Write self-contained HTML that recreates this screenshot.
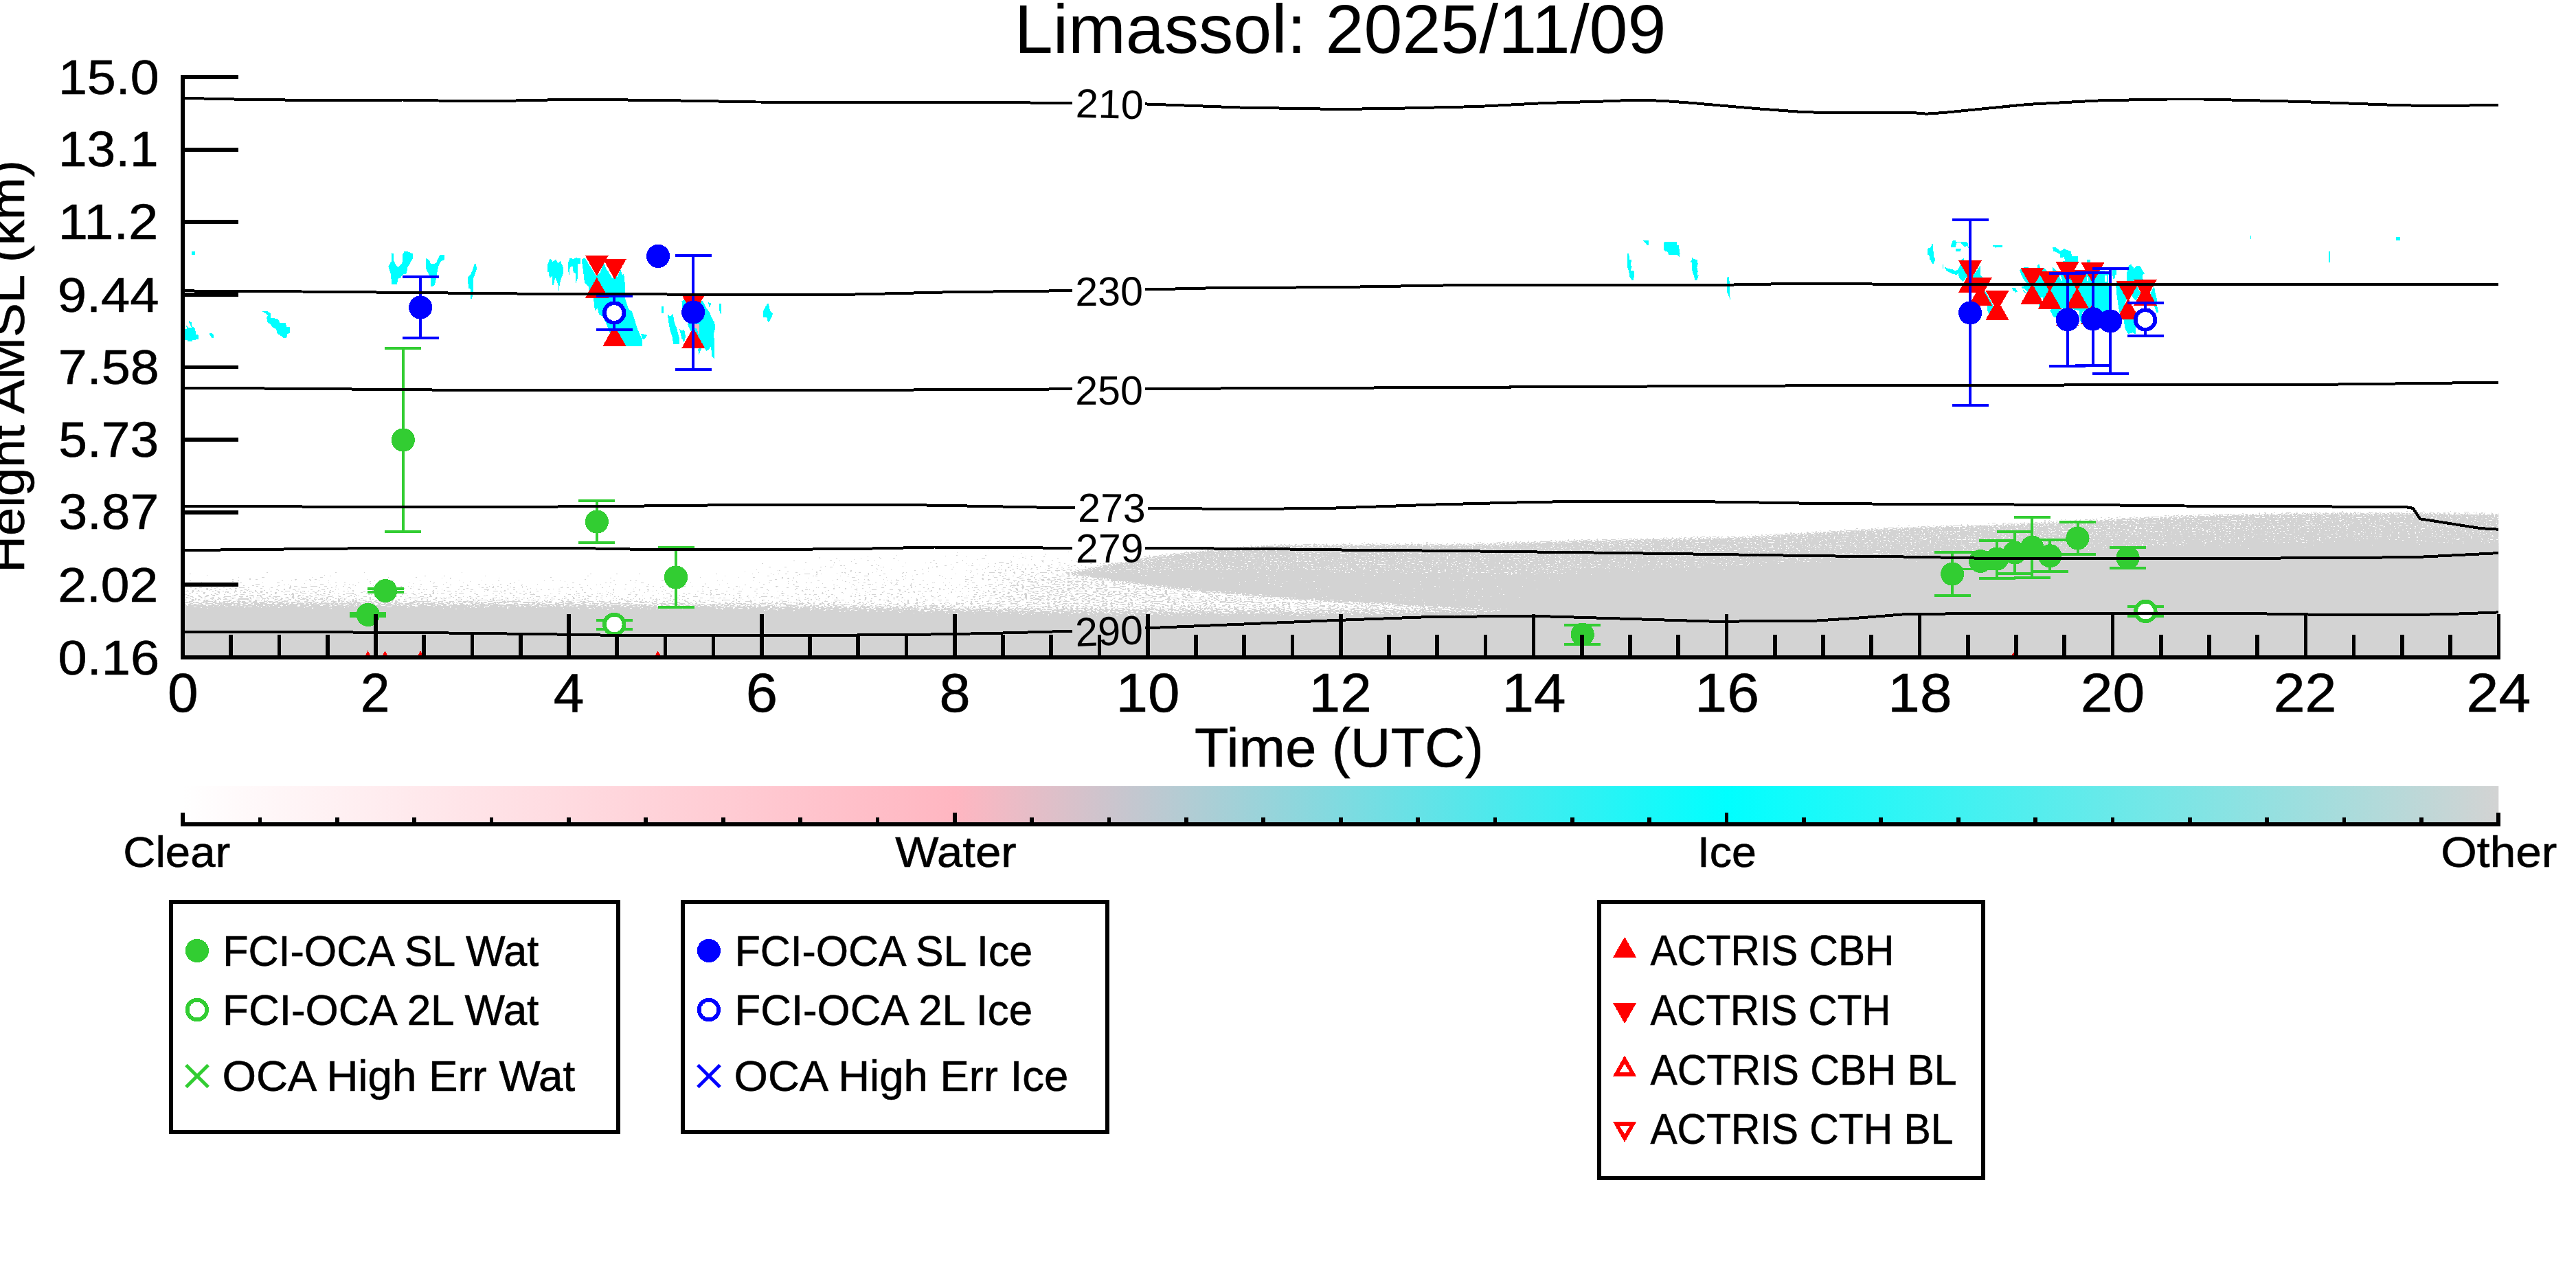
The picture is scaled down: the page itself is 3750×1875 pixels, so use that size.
<!DOCTYPE html>
<html><head><meta charset="utf-8"><title>Limassol: 2025/11/09</title>
<style>html,body{margin:0;padding:0;background:#fff}svg{display:block}text{font-family:"Liberation Sans",sans-serif;fill:#000}text.d{stroke:#000;stroke-width:0.6px}</style></head><body>
<svg width="3750" height="1875" viewBox="0 0 3750 1875">
<rect width="3750" height="1875" fill="#fff"/>
<defs>
<clipPath id="ax"><rect x="266" y="109" width="3371.3" height="847.8"/></clipPath>
<linearGradient id="cb" x1="0" x2="1" y1="0" y2="0"><stop offset="0" stop-color="#ffffff"/><stop offset="0.33333" stop-color="#ffb6c1"/><stop offset="0.66667" stop-color="#00ffff"/><stop offset="1" stop-color="#d3d3d3"/></linearGradient>
<filter id="dzA" x="206" y="690" width="3491.3" height="320" filterUnits="userSpaceOnUse" color-interpolation-filters="sRGB">
<feTurbulence type="fractalNoise" baseFrequency="0.24 0.6" numOctaves="1" seed="7" result="n"/>
<feColorMatrix in="n" type="matrix" values="0 0 0 0 0  0 0 0 0 0  0 0 0 0 0  1 0 0 0 0" result="na"/>
<feComponentTransfer in="na" result="nu"><feFuncA type="table" tableValues="0.0000 0.0000 0.0000 0.0000 0.0000 0.0000 0.0000 0.0001 0.0005 0.0014 0.0036 0.0122 0.0276 0.0508 0.0873 0.1254 0.1792 0.2322 0.3032 0.4023 0.4848 0.5839 0.6887 0.7655 0.8342 0.8819 0.9197 0.9554 0.9766 0.9900 0.9966 0.9988 0.9997 0.9999 1.0000 1.0000 1.0000 1.0000 1.0000 1.0000 1.0000"/></feComponentTransfer>
<feGaussianBlur in="SourceAlpha" stdDeviation="4 4.2" result="d"/>
<feComposite in="d" in2="nu" operator="arithmetic" k1="0" k2="1.012" k3="-1" k4="0" result="s"/>
<feComponentTransfer in="s" result="m"><feFuncA type="linear" slope="1000" intercept="0"/></feComponentTransfer>
<feFlood flood-color="#d3d3d3" result="fl"/>
<feComposite in="fl" in2="m" operator="in"/>
</filter>
<filter id="dzB" x="206" y="690" width="3491.3" height="320" filterUnits="userSpaceOnUse" color-interpolation-filters="sRGB">
<feTurbulence type="fractalNoise" baseFrequency="0.24 0.6" numOctaves="1" seed="11" result="n"/>
<feColorMatrix in="n" type="matrix" values="0 0 0 0 0  0 0 0 0 0  0 0 0 0 0  1 0 0 0 0" result="na"/>
<feComponentTransfer in="na" result="nu"><feFuncA type="table" tableValues="0.0000 0.0000 0.0000 0.0000 0.0000 0.0000 0.0000 0.0001 0.0005 0.0014 0.0036 0.0122 0.0276 0.0508 0.0873 0.1254 0.1792 0.2322 0.3032 0.4023 0.4848 0.5839 0.6887 0.7655 0.8342 0.8819 0.9197 0.9554 0.9766 0.9900 0.9966 0.9988 0.9997 0.9999 1.0000 1.0000 1.0000 1.0000 1.0000 1.0000 1.0000"/></feComponentTransfer>
<feGaussianBlur in="SourceAlpha" stdDeviation="22 5" result="d"/>
<feComposite in="d" in2="nu" operator="arithmetic" k1="0" k2="1.012" k3="-1" k4="0" result="s"/>
<feComponentTransfer in="s" result="m"><feFuncA type="linear" slope="1000" intercept="0"/></feComponentTransfer>
<feFlood flood-color="#d3d3d3" result="fl"/>
<feComposite in="fl" in2="m" operator="in"/>
</filter>
<filter id="dzC" x="206" y="690" width="3491.3" height="320" filterUnits="userSpaceOnUse" color-interpolation-filters="sRGB">
<feTurbulence type="fractalNoise" baseFrequency="0.33 0.75" numOctaves="1" seed="23" result="n"/>
<feColorMatrix in="n" type="matrix" values="0 0 0 0 0  0 0 0 0 0  0 0 0 0 0  1 0 0 0 0" result="na"/>
<feComponentTransfer in="na" result="nu"><feFuncA type="table" tableValues="0.0000 0.0000 0.0000 0.0000 0.0000 0.0000 0.0000 0.0001 0.0005 0.0014 0.0036 0.0122 0.0276 0.0508 0.0873 0.1254 0.1792 0.2322 0.3032 0.4023 0.4848 0.5839 0.6887 0.7655 0.8342 0.8819 0.9197 0.9554 0.9766 0.9900 0.9966 0.9988 0.9997 0.9999 1.0000 1.0000 1.0000 1.0000 1.0000 1.0000 1.0000"/></feComponentTransfer>
<feGaussianBlur in="SourceAlpha" stdDeviation="2.5 1.6" result="d"/>
<feComposite in="d" in2="nu" operator="arithmetic" k1="0" k2="1.012" k3="-1" k4="0" result="s"/>
<feComponentTransfer in="s" result="m"><feFuncA type="linear" slope="1000" intercept="0"/></feComponentTransfer>
<feFlood flood-color="#d3d3d3" result="fl"/>
<feComposite in="fl" in2="m" operator="in"/>
</filter>
<linearGradient id="wg" gradientUnits="userSpaceOnUse" x1="1548" x2="2300" y1="0" y2="0"><stop offset="0" stop-color="#000" stop-opacity="0.27"/><stop offset="0.25" stop-color="#000" stop-opacity="0.31"/><stop offset="0.7" stop-color="#000" stop-opacity="0.33"/><stop offset="1" stop-color="#000" stop-opacity="0.6"/></linearGradient>
<linearGradient id="h1" gradientUnits="userSpaceOnUse" x1="0" x2="0" y1="828" y2="884"><stop offset="0.0000" stop-color="#000" stop-opacity="0.0"/><stop offset="0.2500" stop-color="#000" stop-opacity="0.006"/><stop offset="0.5357" stop-color="#000" stop-opacity="0.03"/><stop offset="0.7143" stop-color="#000" stop-opacity="0.085"/><stop offset="1.0000" stop-color="#000" stop-opacity="0.13"/></linearGradient>
<linearGradient id="hL" gradientUnits="userSpaceOnUse" x1="0" x2="0" y1="834" y2="884"><stop offset="0.0000" stop-color="#000" stop-opacity="0.0"/><stop offset="0.2200" stop-color="#000" stop-opacity="0.02"/><stop offset="0.4400" stop-color="#000" stop-opacity="0.09"/><stop offset="0.6400" stop-color="#000" stop-opacity="0.2"/><stop offset="1.0000" stop-color="#000" stop-opacity="0.27"/></linearGradient>
<linearGradient id="hM" gradientUnits="userSpaceOnUse" x1="0" x2="0" y1="832" y2="884"><stop offset="0.0000" stop-color="#000" stop-opacity="0.0"/><stop offset="0.2500" stop-color="#000" stop-opacity="0.012"/><stop offset="0.5000" stop-color="#000" stop-opacity="0.06"/><stop offset="0.6923" stop-color="#000" stop-opacity="0.13"/><stop offset="1.0000" stop-color="#000" stop-opacity="0.18"/></linearGradient>
<linearGradient id="h2" gradientUnits="userSpaceOnUse" x1="0" x2="0" y1="800" y2="892"><stop offset="0.0000" stop-color="#000" stop-opacity="0.0"/><stop offset="0.0870" stop-color="#000" stop-opacity="0.012"/><stop offset="0.4348" stop-color="#000" stop-opacity="0.03"/><stop offset="0.7391" stop-color="#000" stop-opacity="0.07"/><stop offset="1.0000" stop-color="#000" stop-opacity="0.15"/></linearGradient>
<linearGradient id="h3" gradientUnits="userSpaceOnUse" x1="0" x2="0" y1="800" y2="892"><stop offset="0.0000" stop-color="#000" stop-opacity="0.0"/><stop offset="0.1522" stop-color="#000" stop-opacity="0.03"/><stop offset="0.3478" stop-color="#000" stop-opacity="0.11"/><stop offset="0.5652" stop-color="#000" stop-opacity="0.21"/><stop offset="1.0000" stop-color="#000" stop-opacity="0.28"/></linearGradient>
</defs>
<g clip-path="url(#ax)">
<g filter="url(#dzA)">
<polygon points="206,877.5 800,878.5 1056,881 1300,884 1500,888 1700,889.5 1900,890 2050,889 2174,886 2230,866 2290,838 2400,830 2540,826 2780,812 3000,803 3160,796 3400,792 3697.3,792 3697.3,1005 206,1005" fill="#000"/>
</g>
<g filter="url(#dzB)">
<polygon points="206,826 480,826 480,883 206,882" fill="url(#hL)"/>
<polygon points="480,826 760,826 760,884 480,883" fill="url(#hM)"/>
<polygon points="760,826 1100,826 1100,886 760,884" fill="url(#h1)"/>
<polygon points="1100,824 1300,806 1450,798 1450,892 1100,886" fill="url(#h2)"/>
<polygon points="1450,796 1545,796 1585,828 1548,836 1560,893 1450,892" fill="url(#h3)"/>
<polygon points="1548,836 1600,842 1665,852 1750,861 1843,869 1930,875 2000,879 2090,884 2174,888 2300,890 2300,894 1550,894" fill="url(#wg)"/>
</g>
<g filter="url(#dzC)">
<polygon points="2300,787 2400,785 2540,782 2650,775 2780,768 2900,764.5 3000,759.5 3160,752 3260,749 3400,747 3500,747 3637.3,748.5 3697.3,747 3697.3,767 3637.3,768.5 3500,767 3400,767 3260,769 3160,772 3000,779.5 2900,784.5 2780,788 2650,795 2540,802 2400,805 2300,807" fill="#000" fill-opacity="0.915"/>
<polygon points="2300,807 2400,805 2540,802 2650,795 2780,788 2900,784.5 3000,779.5 3160,772 3260,769 3400,767 3500,767 3637.3,768.5 3697.3,767 3697.3,787 3637.3,788.5 3500,787 3400,787 3260,789 3160,792 3000,799.5 2900,804.5 2780,808 2650,815 2540,822 2400,825 2300,827" fill="#000" fill-opacity="0.95"/>
<polygon points="2300,827 2400,825 2540,822 2650,815 2780,808 2900,804.5 3000,799.5 3160,792 3260,789 3400,787 3500,787 3637.3,788.5 3697.3,787 3697.3,809 3637.3,810.5 3500,809 3400,809 3260,811 3160,814 3000,821.5 2900,826.5 2780,830 2650,837 2540,844 2400,847 2300,849" fill="#000" fill-opacity="0.985"/>
<polygon points="1550,835 1600,824 1665,812 1750,802 1843,794.5 2000,792.5 2152,792.5 2300,787 2300,833.4 2152,835 2000,831.4 1843,828 1750,828.5 1665,830 1600,832.1 1550,835" fill="#000" fill-opacity="0.925"/>
<polygon points="1550,835 1600,832.1 1665,830 1750,828.5 1843,828 2000,831.4 2152,835 2300,833.4 2300,891 2174,888 2090,884 2000,879 1930,875 1843,869 1750,861 1665,852 1600,842 1550,835" fill="#000" fill-opacity="0.985"/>
</g>
<g fill="#00ffff" shape-rendering="crispEdges">
<rect x="279.3" y="366.1" width="5" height="5"/>
<polygon points="268.9,479.1 268.9,495.3 273,495.3 273,497.1 279.9,497.1 279.9,494.7 284.8,494.7 289.2,493.4 289.2,487.8 285.5,486.6 283.6,477.9 279.9,475.4 278.6,469.2 274.3,466.7 276.1,471.7 278.6,476.6 273.7,476.6 271.2,474.2 272.4,479.1" fill="#00ffff"/>
<polygon points="305,484.7 307.8,484.7 310.9,487.2 310.9,492.2 308.4,492.2 305,487.2" fill="#00ffff"/>
<polygon points="381.7,453 389.2,453 393.5,456.1 393.5,462.4 397.9,463 404.7,464.8 407.2,469.8 415.9,469.8 417.1,476 421.5,476 422.1,484.7 418.4,486 417.1,492.2 412.2,492.2 409.1,489.1 403.5,485.3 402.2,479.1 396,476 393.5,471.7 389.8,469.8 388,462.4 389.8,459.3 385.5,455.5" fill="#00ffff"/>
<polygon points="570.2,368.3 572.7,369.2 573.3,379.8 575.8,384.7 579.5,389.1 585.7,382.2 585.7,371.7 588.2,366.1 593.2,366.1 600.6,369.2 601.2,375.4 596.9,383.5 593.2,389.7 591.9,398.4 587,399.6 582.6,404.6 578.9,405.8 578.3,413.9 570.2,413.9 568.9,399.6 565.2,388.4 567.7,383.5 570.2,379.8" fill="#00ffff"/>
<polygon points="619.9,376 624.8,378.5 626.7,383.5 631.7,384.1 635.4,382.2 637.9,376 640.4,371.1 647.2,371.1 647.2,377.9 641.6,381 638.5,387.2 636,397.8 634.8,407.1 632.9,414.5 629.8,417 627,417 627,404.6 624.2,399.6 620.5,392.2" fill="#00ffff"/>
<polygon points="690.7,384.1 693.2,384.1 693.8,391.6 691.9,398.4 689.4,404.6 688.8,425.7 687,435 685.1,435 684.5,420.7 682,419.5 680.7,403.4 685.1,399.6 687.6,393.4" fill="#00ffff"/>
<polygon points="796.8,385.3 801.1,376 804.8,381 809.2,377.9 812.3,383.5 816,379.8 819.8,389.7 819.8,398.4 817.3,404.6 814.8,413.3 813.5,423.2 812.5,414.5 810.4,408.9 808,404.6 806.1,414.5 804.2,414.5 803.6,402.1 799.9,404.6 798.6,395.9 796.8,395.9" fill="#00ffff"/>
<polygon points="827.2,382.2 829.7,375.4 834.7,377.3 838.4,375.4 844.6,376 844.6,383.5 840.9,384.7 840.9,404.6 838.4,412 837.8,398.4 834.7,395.9 833.4,387.2 829.7,389.7 828.4,400.9 827.2,394.7" fill="#00ffff"/>
<polygon points="846.5,377 849,395 851,412 857,418 858,428 864,434 866,452 870,448 872,458 878,461 883,472 889,488 896,500 904,504 935,504 935,495 929,481 925,469 920,453 917,452 915,450 910,434 910,415 908,398 906,400 903,392 899,404 894,398 892,406 886,396 883,392 879,383 874,396 868,402 863,394 858,386 852,376" fill="#00ffff"/>
<polygon points="933,485.7 942.1,487.8 937.9,494.1 934.4,492.7" fill="#00ffff"/>
<polygon points="972.1,457.7 975.6,460.5 979.8,456.3 981.2,467.5 985.4,478.7 988.9,492.7 988.9,501.1 980.5,501.1 978.4,489.9 974.9,478.7 972.8,466.1" fill="#00ffff"/>
<polygon points="988.9,478 992.4,481.5 995.9,479.4 998,489.9 995.9,498.3 992.4,492.7" fill="#00ffff"/>
<polygon points="992.4,438.2 998,435.4 1023.2,438.2 1028,447.9 1032.9,454.9 1035.7,461.9 1039.9,468.9 1041.3,475.9 1039.2,485.7 1039.9,498.3 1039.9,522 1036.4,519.2 1035,503.8 1031.5,509.4 1028,510.8 1025.9,506.6 1021.1,507.3 1017.6,516.4 1016.2,509.4 1017.6,503.8 1003.6,478.7 1000.8,471.7 1003.6,468.9 995.2,461.9" fill="#00ffff"/>
<polygon points="963.1,445.9 965.9,445.9 965.9,455.6 963.1,455.6" fill="#00ffff"/>
<polygon points="1030.8,440.3 1035.7,441 1032.9,447.9" fill="#00ffff"/>
<polygon points="1046.9,442.4 1049.7,442.4 1049.7,457.7 1047.6,454.9" fill="#00ffff"/>
<polygon points="1111.2,452.1 1116.8,442.4 1118.9,442.4 1121,452.1 1125.2,456.3 1123.8,460.5 1121,466.1 1118.2,468.9 1116.1,461.9 1111.2,461.9" fill="#00ffff"/>
<polygon points="2368.8,369.1 2371.1,369.1 2372.3,377.8 2375.4,378.4 2373.5,387.1 2376,387.7 2373.5,393.3 2378.5,394.5 2379.1,399.5 2377.9,407.8 2375.4,407.8 2372.3,402.6 2371.1,394.5 2368.8,388.3" fill="#00ffff"/>
<polygon points="2391.9,349.8 2400,349.8 2400,356.9 2397.8,356.9 2394.7,353.5" fill="#00ffff"/>
<polygon points="2422,353.5 2423.2,352 2440.6,352.5 2441.2,357.3 2443.7,357.3 2445.6,368.4 2445,374.7 2443.1,372.2 2441.2,370.9 2429.4,370.9 2427,366 2422.6,365.3" fill="#00ffff"/>
<polygon points="2459.9,380.9 2462.4,379.6 2463,375 2465.5,377.1 2471.1,378.1 2471.7,384.6 2470.4,389.6 2471.7,394.5 2471.1,400.7 2472.9,401.4 2470.4,407.6 2467,407.8 2466.1,400.7 2463.6,395.8 2463,382.1" fill="#00ffff"/>
<polygon points="2513.9,405.7 2515.2,403 2517,403 2517.9,414.4 2517.9,426.8 2518.9,436.8 2517,431.8 2514.5,425.6 2513.9,414.4" fill="#00ffff"/>
<polygon points="2805.7,362.1 2810.5,360.4 2813.3,352.8 2814.1,362.6 2815.4,373.5 2817.1,376.7 2816.5,380 2814.9,384 2813,384 2811.1,380 2808.9,377.8 2808.4,371.3 2805.7,371.1" fill="#00ffff"/>
<polygon points="2839.9,357.2 2843.2,349.9 2846.4,349.9 2847,351.7 2857.8,351.7 2864.3,352.8 2866,361.5 2864.3,358.3 2858.9,358.8 2854.6,353.4 2849.1,352.8 2846.4,359.9 2840.4,359.9" fill="#00ffff"/>
<polygon points="2847,361.7 2855.1,361.7 2854,365.9 2847,365.9" fill="#00ffff"/>
<polygon points="2901,356.8 2915.1,356.8 2915.1,359.9 2906.2,359.9 2905.7,361.7 2904.6,359.9 2901,358.5" fill="#00ffff"/>
<polygon points="2827.9,384.9 2829,384.9 2829,390.9 2827.9,390.9" fill="#00ffff"/>
<polygon points="2830.7,388.7 2836.1,390.9 2841,392 2842.6,392.5 2847,394.1 2852.4,390.9 2852.4,395.2 2849.1,400.1 2845.9,399.6 2840.4,397.9 2835,395.2 2831.2,390.9" fill="#00ffff"/>
<polygon points="2850.8,390.9 2854.6,384.3 2864.3,401.7 2857.8,410.4 2852.4,405 2850.8,399.6" fill="#00ffff"/>
<polygon points="2872,401.7 2882.8,386.5 2883.4,400.7 2886.1,403.9 2872,403.9" fill="#00ffff"/>
<polygon points="2855.1,377.8 2858.9,376.2 2858.9,379.1 2855.1,379.1" fill="#00ffff"/>
<polygon points="2893.2,444.1 2901.3,444.1 2901.3,447.4 2895.9,458.3 2893.2,452.8" fill="#00ffff"/>
<polygon points="2888.3,424.6 2889.9,423.5 2901.3,444.1 2900.2,445.2" fill="#00ffff"/>
<polygon points="2929,418.9 2933.9,418.9 2936.6,424.6 2935,425.7 2931.7,422.4 2929,420.2" fill="#00ffff"/>
<polygon points="2988.2,360 2992,360 2999.6,365.4 3005,362.2 3014.8,366 3015.9,373 3024.6,373 3025.1,380.7 3006.1,380.7 3005,374.1 2999.6,375.2 2998.5,369.8 2989.2,365.4" fill="#00ffff"/>
<polygon points="3038.2,377.9 3043,377.9 3043,381.7 3038.2,381.7" fill="#00ffff"/>
<polygon points="2966.4,385.5 2969.1,385.5 2969.1,389.9 2966.4,389.9" fill="#00ffff"/>
<polygon points="2930,418.7 2933.3,419.2 2937.1,424.7 2934.9,425.8 2930,422.5" fill="#00ffff"/>
<polygon points="2940.2,392.8 2947.9,388.5 2953.1,388.5 2953.5,390.1 2966.7,390.1 2967.1,385.1 2969.3,385.1 2969.7,390.1 2975.3,390.2 2981.2,395.4 2988.1,395.4 2988.1,388.5 2993.2,394.1 2998.3,395.4 3022.2,395.4 3035,395.8 3058.1,393.7 3070.1,395.4 3070.1,450.9 3059.8,454.3 3049.6,448.3 3041,448.3 3030.8,455.1 3030.8,470.5 3029.1,470.5 3026.5,456.9 3023.9,450.9 3000.9,449.2 2994.9,456.9 2993.2,462 2989.8,462 2983.8,450.9 2989.8,449.6 2967.6,449.6 2967.6,442.8 2942,442.8 2951.3,427.8 2946.2,425.3 2942.8,417.6 2952.2,414.2 2947.1,408.2 2942.8,401.3" fill="#00ffff"/>
<polygon points="2930,418.9 2933.4,419.3 2936.8,424 2936.4,425.7 2933.4,424.4 2930,421.8" fill="#00ffff"/>
<polygon points="3003.4,380 3020.5,380 3020.5,381.3 3003.4,381.3" fill="#00ffff"/>
<polygon points="3039.3,380 3042.7,380 3042.7,381.9 3039.3,381.9" fill="#00ffff"/>
<polygon points="3075.2,392.8 3081.2,392.8 3081.2,397.1 3078.6,397.1 3078.6,404.8 3076.9,404.8 3075.2,397.1" fill="#00ffff"/>
<polygon points="3081.2,408.2 3086.3,415.9 3092.3,427.8 3095.7,435.5 3089.7,450.9 3085.4,455.1 3082.9,439.8 3081.2,427.8 3080.3,415.9" fill="#00ffff"/>
<polygon points="2997.5,401.3 3000,401.3 3002.6,409 3000.9,409" fill="#ffffff"/>
<polygon points="3038,403.1 3039.7,403.1 3039.7,409 3038,409" fill="#ffffff"/>
<polygon points="3064.1,400.5 3066.6,400.5 3066.6,409.9 3064.1,409.9" fill="#ffffff"/>
<polygon points="3069.2,399.6 3070.9,399.6 3070.9,411.6 3069.2,411.6" fill="#ffffff"/>
<polygon points="3024.8,451.7 3026.5,451.7 3026.5,456.9 3024.8,456.9" fill="#ffffff"/>
<polygon points="2971,432.9 2974.4,432.9 2974.4,438.9 2972.7,438.9" fill="#ffffff"/>
<polygon points="2943.7,420.1 2947.1,420.1 2952.2,426.1 2949.6,426.5" fill="#ffffff"/>
<polygon points="3083.7,424.4 3085.4,424.4 3088.8,435.5 3087.1,435.5" fill="#ffffff"/>
<polygon points="3095.7,399.6 3098.9,386.5 3102.2,384.9 3106.5,390.9 3110.3,387.1 3115.2,387.1 3118.5,393 3121.7,398.5 3119,400.1 3119.6,406.6 3106.5,407.2 3106,408.8 3096.2,408.8" fill="#00ffff"/>
<polygon points="3081.5,418 3084.8,415.9 3095.7,436.5 3089.1,449.6 3085.9,445.2 3082.6,432.2" fill="#00ffff"/>
<polygon points="3102.2,425.7 3110.9,417 3116.3,426.7 3109.2,437.6 3105.4,434.3" fill="#00ffff"/>
<polygon points="3130.4,426.7 3135.9,416.4 3137,423.5 3139.7,434.3 3140.2,445.2 3142.4,455 3139.1,455 3135.9,445.2 3132.6,432.2" fill="#00ffff"/>
<polygon points="3091.3,464.8 3106.5,464.8 3109.2,477.8 3109.2,486.5 3104.3,484.3 3097.8,486 3093.5,477.8" fill="#00ffff"/>
<polygon points="3074.5,396.3 3081,396.3 3081,399.6 3078.3,399.6 3078.3,406.1 3076.1,406.1" fill="#00ffff"/>
<rect x="3276" y="343" width="1.3" height="5"/><rect x="3390" y="365.8" width="1.7" height="16"/><rect x="3487.8" y="345.1" width="6.3" height="4.9"/>
</g>
<polygon points="1011.3,471.7 1017.6,471.7 1018.3,485.7 1016.2,485.7 1014.8,478.7 1011.3,477.3" fill="#ffb6c1" shape-rendering="crispEdges"/>
<g shape-rendering="crispEdges">
<polygon points="868.8,402 851.8,372 885.8,372" fill="#ff0000" shape-rendering="crispEdges"/>
<polygon points="868.8,403.8 851.8,433.8 885.8,433.8" fill="#ff0000" shape-rendering="crispEdges"/>
<polygon points="894.9,407 877.9,377 911.9,377" fill="#ff0000" shape-rendering="crispEdges"/>
<polygon points="894.4,473.8 877.4,503.8 911.4,503.8" fill="#ff0000" shape-rendering="crispEdges"/>
<polygon points="1009.2,459 992.2,429 1026.2,429" fill="#ff0000" shape-rendering="crispEdges"/>
<polygon points="1009.2,476.9 992.2,506.9 1026.2,506.9" fill="#ff0000" shape-rendering="crispEdges"/>
<polygon points="535.5,947.4 518.5,977.4 552.5,977.4" fill="#ff0000" shape-rendering="crispEdges"/>
<polygon points="560.6,947.4 543.6,977.4 577.6,977.4" fill="#ff0000" shape-rendering="crispEdges"/>
<polygon points="612.1,947.4 595.1,977.4 629.1,977.4" fill="#ff0000" shape-rendering="crispEdges"/>
<polygon points="957.7,947.4 940.7,977.4 974.7,977.4" fill="#ff0000" shape-rendering="crispEdges"/>
<polygon points="2303,951.5 2286,981.5 2320,981.5" fill="#ff0000" shape-rendering="crispEdges"/>
<polygon points="2931.3,949.3 2914.3,979.3 2948.3,979.3" fill="#ff0000" shape-rendering="crispEdges"/>
<polygon points="2868,409.1 2851,379.1 2885,379.1" fill="#ff0000" shape-rendering="crispEdges"/>
<polygon points="2868,395.7 2851,425.7 2885,425.7" fill="#ff0000" shape-rendering="crispEdges"/>
<polygon points="2883,434 2866,404 2900,404" fill="#ff0000" shape-rendering="crispEdges"/>
<polygon points="2883,414.7 2866,444.7 2900,444.7" fill="#ff0000" shape-rendering="crispEdges"/>
<polygon points="2907.5,453 2890.5,423 2924.5,423" fill="#ff0000" shape-rendering="crispEdges"/>
<polygon points="2907.5,435.8 2890.5,465.8 2924.5,465.8" fill="#ff0000" shape-rendering="crispEdges"/>
<polygon points="2958.4,420.1 2941.4,390.1 2975.4,390.1" fill="#ff0000" shape-rendering="crispEdges"/>
<polygon points="2958.4,412.8 2941.4,442.8 2975.4,442.8" fill="#ff0000" shape-rendering="crispEdges"/>
<polygon points="2983.8,425 2966.8,395 3000.8,395" fill="#ff0000" shape-rendering="crispEdges"/>
<polygon points="2983.8,419.8 2966.8,449.8 3000.8,449.8" fill="#ff0000" shape-rendering="crispEdges"/>
<polygon points="3009.5,411 2992.5,381 3026.5,381" fill="#ff0000" shape-rendering="crispEdges"/>
<polygon points="3009.5,444.4 2992.5,474.4 3026.5,474.4" fill="#ff0000" shape-rendering="crispEdges"/>
<polygon points="3023.9,423.2 3006.9,393.2 3040.9,393.2" fill="#ff0000" shape-rendering="crispEdges"/>
<polygon points="3023.9,418.9 3006.9,448.9 3040.9,448.9" fill="#ff0000" shape-rendering="crispEdges"/>
<polygon points="3046.4,412.1 3029.4,382.1 3063.4,382.1" fill="#ff0000" shape-rendering="crispEdges"/>
<polygon points="3046.4,441.5 3029.4,471.5 3063.4,471.5" fill="#ff0000" shape-rendering="crispEdges"/>
<polygon points="3098,439.1 3081,409.1 3115,409.1" fill="#ff0000" shape-rendering="crispEdges"/>
<polygon points="3098,434.8 3081,464.8 3115,464.8" fill="#ff0000" shape-rendering="crispEdges"/>
<polygon points="3123,437 3106,407 3140,407" fill="#ff0000" shape-rendering="crispEdges"/>
<polygon points="3123,414.9 3106,444.9 3140,444.9" fill="#ff0000" shape-rendering="crispEdges"/>
</g>
<g fill="#32cd32" shape-rendering="crispEdges"><rect x="584.9" y="506.8" width="3.9" height="267.4"/><rect x="560.4" y="504.9" width="53" height="3.9"/><rect x="560.4" y="772.2" width="53" height="3.9"/></g>
<circle cx="586.9" cy="640.4" r="17.1" fill="#32cd32" shape-rendering="crispEdges"/>
<g fill="#32cd32" shape-rendering="crispEdges"><rect x="559.2" y="856.7" width="3.9" height="5.3"/><rect x="534.7" y="854.8" width="53" height="3.9"/><rect x="534.7" y="860" width="53" height="3.9"/></g>
<circle cx="561.2" cy="860" r="17.1" fill="#32cd32" shape-rendering="crispEdges"/>
<g fill="#32cd32" shape-rendering="crispEdges"><rect x="533.8" y="893" width="3.9" height="4"/><rect x="509.3" y="891" width="53" height="3.9"/><rect x="509.3" y="895" width="53" height="3.9"/></g>
<circle cx="535.8" cy="894.9" r="17.1" fill="#32cd32" shape-rendering="crispEdges"/>
<g fill="#32cd32" shape-rendering="crispEdges"><rect x="866.9" y="729" width="3.9" height="61"/><rect x="842.4" y="727" width="53" height="3.9"/><rect x="842.4" y="788" width="53" height="3.9"/></g>
<circle cx="868.9" cy="759.5" r="17.1" fill="#32cd32" shape-rendering="crispEdges"/>
<g fill="#32cd32" shape-rendering="crispEdges"><rect x="982" y="796.5" width="3.9" height="87.5"/><rect x="957.5" y="794.5" width="53" height="3.9"/><rect x="957.5" y="882" width="53" height="3.9"/></g>
<circle cx="984" cy="840.4" r="17.1" fill="#32cd32" shape-rendering="crispEdges"/>
<g fill="#32cd32" shape-rendering="crispEdges"><rect x="2301.8" y="909.6" width="3.9" height="28"/><rect x="2277.2" y="907.6" width="53" height="3.9"/><rect x="2277.2" y="935.6" width="53" height="3.9"/></g>
<circle cx="2303.7" cy="923.6" r="17.1" fill="#32cd32" shape-rendering="crispEdges"/>
<g fill="#32cd32" shape-rendering="crispEdges"><rect x="2840.2" y="804" width="3.9" height="63"/><rect x="2815.7" y="802" width="53" height="3.9"/><rect x="2815.7" y="865" width="53" height="3.9"/></g>
<circle cx="2842.2" cy="835.6" r="17.1" fill="#32cd32" shape-rendering="crispEdges"/>
<g fill="#32cd32" shape-rendering="crispEdges"><rect x="2881.2" y="804" width="3.9" height="24.5"/><rect x="2856.6" y="802" width="53" height="3.9"/><rect x="2856.6" y="826.5" width="53" height="3.9"/></g>
<circle cx="2883.1" cy="817" r="17.1" fill="#32cd32" shape-rendering="crispEdges"/>
<g fill="#32cd32" shape-rendering="crispEdges"><rect x="2905.1" y="787" width="3.9" height="55"/><rect x="2880.5" y="785" width="53" height="3.9"/><rect x="2880.5" y="840" width="53" height="3.9"/></g>
<circle cx="2907" cy="813.5" r="17.1" fill="#32cd32" shape-rendering="crispEdges"/>
<g fill="#32cd32" shape-rendering="crispEdges"><rect x="2931.1" y="774" width="3.9" height="60.8"/><rect x="2906.5" y="772" width="53" height="3.9"/><rect x="2906.5" y="832.8" width="53" height="3.9"/></g>
<circle cx="2933" cy="804.4" r="17.1" fill="#32cd32" shape-rendering="crispEdges"/>
<g fill="#32cd32" shape-rendering="crispEdges"><rect x="2956.4" y="753" width="3.9" height="88"/><rect x="2931.8" y="751" width="53" height="3.9"/><rect x="2931.8" y="839" width="53" height="3.9"/></g>
<circle cx="2958.3" cy="796.7" r="17.1" fill="#32cd32" shape-rendering="crispEdges"/>
<g fill="#32cd32" shape-rendering="crispEdges"><rect x="2982.2" y="786" width="3.9" height="46"/><rect x="2957.7" y="784" width="53" height="3.9"/><rect x="2957.7" y="830" width="53" height="3.9"/></g>
<circle cx="2984.2" cy="809.3" r="17.1" fill="#32cd32" shape-rendering="crispEdges"/>
<g fill="#32cd32" shape-rendering="crispEdges"><rect x="3022.6" y="760" width="3.9" height="47"/><rect x="2998" y="758" width="53" height="3.9"/><rect x="2998" y="805" width="53" height="3.9"/></g>
<circle cx="3024.5" cy="783.5" r="17.1" fill="#32cd32" shape-rendering="crispEdges"/>
<g fill="#32cd32" shape-rendering="crispEdges"><rect x="3095.7" y="797" width="3.9" height="30"/><rect x="3071.1" y="795" width="53" height="3.9"/><rect x="3071.1" y="825" width="53" height="3.9"/></g>
<circle cx="3097.6" cy="812" r="17.1" fill="#32cd32" shape-rendering="crispEdges"/>
<g fill="#32cd32" shape-rendering="crispEdges"><rect x="892.2" y="903" width="3.9" height="13"/><rect x="867.7" y="901" width="53" height="3.9"/><rect x="867.7" y="914" width="53" height="3.9"/></g>
<circle cx="894.2" cy="909" r="14.3" fill="#fff" stroke="#32cd32" stroke-width="5.8" shape-rendering="crispEdges"/>
<g fill="#32cd32" shape-rendering="crispEdges"><rect x="3121.5" y="883.2" width="3.9" height="13.4"/><rect x="3096.9" y="881.2" width="53" height="3.9"/><rect x="3096.9" y="894.6" width="53" height="3.9"/></g>
<circle cx="3123.4" cy="889.9" r="14.3" fill="#fff" stroke="#32cd32" stroke-width="5.8" shape-rendering="crispEdges"/>
<g fill="#0000ff" shape-rendering="crispEdges"><rect x="610.1" y="403" width="3.9" height="89"/><rect x="585.6" y="401.1" width="53" height="3.9"/><rect x="585.6" y="490.1" width="53" height="3.9"/></g>
<circle cx="612.1" cy="447.5" r="17.1" fill="#0000ff" shape-rendering="crispEdges"/>
<g fill="#0000ff" shape-rendering="crispEdges"></g>
<circle cx="958.1" cy="372.9" r="17.1" fill="#0000ff" shape-rendering="crispEdges"/>
<g fill="#0000ff" shape-rendering="crispEdges"><rect x="1007.2" y="372" width="3.9" height="166"/><rect x="982.7" y="370.1" width="53" height="3.9"/><rect x="982.7" y="536" width="53" height="3.9"/></g>
<circle cx="1009.2" cy="454.6" r="17.1" fill="#0000ff" shape-rendering="crispEdges"/>
<g fill="#0000ff" shape-rendering="crispEdges"><rect x="2866.2" y="320" width="3.9" height="270"/><rect x="2841.6" y="318.1" width="53" height="3.9"/><rect x="2841.6" y="588" width="53" height="3.9"/></g>
<circle cx="2868.1" cy="455.4" r="17.1" fill="#0000ff" shape-rendering="crispEdges"/>
<g fill="#0000ff" shape-rendering="crispEdges"><rect x="3007.9" y="398" width="3.9" height="135"/><rect x="2983.3" y="396.1" width="53" height="3.9"/><rect x="2983.3" y="531" width="53" height="3.9"/></g>
<circle cx="3009.8" cy="465.3" r="17.1" fill="#0000ff" shape-rendering="crispEdges"/>
<g fill="#0000ff" shape-rendering="crispEdges"><rect x="3045.1" y="396.9" width="3.9" height="135.1"/><rect x="3020.5" y="394.9" width="53" height="3.9"/><rect x="3020.5" y="530" width="53" height="3.9"/></g>
<circle cx="3047" cy="464.3" r="17.1" fill="#0000ff" shape-rendering="crispEdges"/>
<g fill="#0000ff" shape-rendering="crispEdges"><rect x="3070.2" y="391" width="3.9" height="153"/><rect x="3045.6" y="389.1" width="53" height="3.9"/><rect x="3045.6" y="542" width="53" height="3.9"/></g>
<circle cx="3072.1" cy="467.4" r="17.1" fill="#0000ff" shape-rendering="crispEdges"/>
<g fill="#0000ff" shape-rendering="crispEdges"><rect x="892.2" y="431" width="3.9" height="49"/><rect x="867.7" y="429.1" width="53" height="3.9"/><rect x="867.7" y="478.1" width="53" height="3.9"/></g>
<circle cx="894.2" cy="455.5" r="14.3" fill="#fff" stroke="#0000ff" stroke-width="5.8" shape-rendering="crispEdges"/>
<g fill="#0000ff" shape-rendering="crispEdges"><rect x="3121.2" y="440.9" width="3.9" height="48.1"/><rect x="3096.6" y="438.9" width="53" height="3.9"/><rect x="3096.6" y="487.1" width="53" height="3.9"/></g>
<circle cx="3123.1" cy="465.5" r="14.3" fill="#fff" stroke="#0000ff" stroke-width="5.8" shape-rendering="crispEdges"/>
<g fill="none" stroke="#000" stroke-width="4" stroke-linejoin="round" shape-rendering="crispEdges">
<polyline points="266,142.8 358,144.9 508,146.5 586,145.5 690,147.5 769,146.2 834,144.6 974,146.2 1100,148.5 1416,149.1 1561.4,149.8"/>
<polyline points="1667.3,151.4 1807.5,156.6 1940,158.8 2011.7,158.3 2152,155 2246.5,150.1 2344.3,147.2 2380,145.5 2420,146.8 2461.7,149.8 2559.5,158.3 2624.7,163.1 2673.6,164.4 2780,163.6 2804,165.7 2830,164 2950.8,152 3060,146.2 3155.8,144.5 3207,144.5 3347,147.9 3480,152.7 3531.6,154.1 3590,153.6 3637.3,152.7"/>
<polyline points="266,423.4 439,424.5 579.5,425.8 671,426.7 772,427.7 948,428.4 1100,429.1 1237,428.7 1377,425.4 1501,423.8 1561.4,423.1"/>
<polyline points="1667.3,421.5 1768.4,419.2 1940,418.2 2051,416.3 2152,414.7 2514,414.7 2595,413.2 2670,413 2780,414 3637.3,414"/>
<polyline points="266,564.6 475,566.2 664,567.8 1100,568.1 1449,567.2 1561.4,566.2"/>
<polyline points="1667.3,566.2 1827,565.2 1940,564.8 2360.6,562.7 2721,560.9 3362,560 3637.3,556.7"/>
<polyline points="266,737.2 599,737.8 775,737.8 977,736.2 1100,734.6 1295.6,734.6 1426,736.8 1524,738.8 1564.6,739.5"/>
<polyline points="1671.2,739.8 1817,741.1 1940,739.7 2086.7,734.6 2240,730.7 2344,729.7 2442,729.7 2549.7,731.3 2624.7,732.6 2780,734 3019,734.8 3179.7,736.5 3395,737.5 3500.9,737.9 3512.8,739.9 3523,755.3 3610,769 3637.3,770.7"/>
<polyline points="266,801.1 358,800.1 543.7,798.1 847,798.1 931.7,799.8 1100,800.3 1256.5,798.8 1360.8,796.5 1504,797.2 1561.4,798.5"/>
<polyline points="1667.3,797.8 1850,799.1 1940,800.4 2060.6,801.4 2145.4,802.4 2305,804.3 2471.5,806.6 2641,809.2 2780,810.6 2913,813.3 3248,813 3514.5,811.2 3637.3,805.1"/>
<polyline points="266,919.7 475,920.3 605.6,921 700,922 798,923.3 899,924.9 1100,925.2 1315,924.2 1442,922 1561.4,918.7"/>
<polyline points="1667.3,914.4 1940,903.2 2080,898.1 2233.4,896.8 2354,900.4 2494.3,904.7 2637.7,904 2700,900 2780,893.6 3258,892.8 3378,894.8 3507.7,895.2 3580,893.5 3637.3,891.4"/>
</g>
</g>
<text transform="rotate(1.4 1615.6 151.4) translate(1565.9 172)" font-size="59.20">210</text>
<text transform="rotate(-0.5 1615.3 423.3) translate(1565.2 444.7)" font-size="59.20">230</text>
<text transform="translate(1565.2 589.1)" font-size="59.20">250</text>
<text transform="rotate(0.3 1618.4 739.8) translate(1569.1 760)" font-size="59.20">273</text>
<text transform="rotate(-0.3 1615.2 798.5) translate(1565.9 818.7)" font-size="59.20">279</text>
<text transform="rotate(-2.2 1614.8 918.2) translate(1565.2 939.2)" font-size="59.20">290</text>
<g fill="#000" shape-rendering="crispEdges">
<rect x="263.1" y="109.1" width="5.8" height="850.7"/>
<rect x="263.1" y="953.8" width="3377.1" height="5.9"/>
<rect x="266" y="109.1" width="81" height="5.8"/>
<rect x="266" y="214.7" width="81" height="5.8"/>
<rect x="266" y="320.3" width="81" height="5.8"/>
<rect x="266" y="425.9" width="81" height="5.8"/>
<rect x="266" y="531.5" width="81" height="5.8"/>
<rect x="266" y="637.1" width="81" height="5.8"/>
<rect x="266" y="742.7" width="81" height="5.8"/>
<rect x="266" y="848.3" width="81" height="5.8"/>
<rect x="266" y="953.9" width="81" height="5.8"/>
<rect x="263.1" y="894.2" width="5.7" height="62.6"/>
<rect x="333.4" y="924" width="5.7" height="32.8"/>
<rect x="403.6" y="924" width="5.7" height="32.8"/>
<rect x="473.9" y="924" width="5.7" height="32.8"/>
<rect x="544.1" y="894.2" width="5.7" height="62.6"/>
<rect x="614.3" y="924" width="5.7" height="32.8"/>
<rect x="684.6" y="924" width="5.7" height="32.8"/>
<rect x="754.8" y="924" width="5.7" height="32.8"/>
<rect x="825" y="894.2" width="5.7" height="62.6"/>
<rect x="895.3" y="924" width="5.7" height="32.8"/>
<rect x="965.5" y="924" width="5.7" height="32.8"/>
<rect x="1035.7" y="924" width="5.7" height="32.8"/>
<rect x="1106" y="894.2" width="5.7" height="62.6"/>
<rect x="1176.2" y="924" width="5.7" height="32.8"/>
<rect x="1246.4" y="924" width="5.7" height="32.8"/>
<rect x="1316.7" y="924" width="5.7" height="32.8"/>
<rect x="1386.9" y="894.2" width="5.7" height="62.6"/>
<rect x="1457.2" y="924" width="5.7" height="32.8"/>
<rect x="1527.4" y="924" width="5.7" height="32.8"/>
<rect x="1597.6" y="924" width="5.7" height="32.8"/>
<rect x="1667.9" y="894.2" width="5.7" height="62.6"/>
<rect x="1738.1" y="924" width="5.7" height="32.8"/>
<rect x="1808.3" y="924" width="5.7" height="32.8"/>
<rect x="1878.6" y="924" width="5.7" height="32.8"/>
<rect x="1948.8" y="894.2" width="5.7" height="62.6"/>
<rect x="2019" y="924" width="5.7" height="32.8"/>
<rect x="2089.3" y="924" width="5.7" height="32.8"/>
<rect x="2159.5" y="924" width="5.7" height="32.8"/>
<rect x="2229.7" y="894.2" width="5.7" height="62.6"/>
<rect x="2300" y="924" width="5.7" height="32.8"/>
<rect x="2370.2" y="924" width="5.7" height="32.8"/>
<rect x="2440.4" y="924" width="5.7" height="32.8"/>
<rect x="2510.7" y="894.2" width="5.7" height="62.6"/>
<rect x="2580.9" y="924" width="5.7" height="32.8"/>
<rect x="2651.2" y="924" width="5.7" height="32.8"/>
<rect x="2721.4" y="924" width="5.7" height="32.8"/>
<rect x="2791.6" y="894.2" width="5.7" height="62.6"/>
<rect x="2861.9" y="924" width="5.7" height="32.8"/>
<rect x="2932.1" y="924" width="5.7" height="32.8"/>
<rect x="3002.3" y="924" width="5.7" height="32.8"/>
<rect x="3072.6" y="894.2" width="5.7" height="62.6"/>
<rect x="3142.8" y="924" width="5.7" height="32.8"/>
<rect x="3213" y="924" width="5.7" height="32.8"/>
<rect x="3283.3" y="924" width="5.7" height="32.8"/>
<rect x="3353.5" y="894.2" width="5.7" height="62.6"/>
<rect x="3423.7" y="924" width="5.7" height="32.8"/>
<rect x="3494" y="924" width="5.7" height="32.8"/>
<rect x="3564.2" y="924" width="5.7" height="32.8"/>
<rect x="3634.5" y="894.2" width="5.7" height="62.6"/>
</g>
<g>
<text class="d" transform="translate(84.9 136.8) scale(1.0575 1)" font-size="71.31">15.0</text>
<text class="d" transform="translate(84.9 242.4) scale(1.0501 1)" font-size="71.31">13.1</text>
<text class="d" transform="translate(84.7 348) scale(1.0905 1)" font-size="71.31">11.2</text>
<text class="d" transform="translate(83.8 453.6) scale(1.0648 1)" font-size="71.31">9.44</text>
<text class="d" transform="translate(84.8 559.2) scale(1.0597 1)" font-size="71.31">7.58</text>
<text class="d" transform="translate(85.3 664.8) scale(1.0500 1)" font-size="71.31">5.73</text>
<text class="d" transform="translate(85.4 770.4) scale(1.0501 1)" font-size="71.31">3.87</text>
<text class="d" transform="translate(84.2 876) scale(1.0514 1)" font-size="71.31">2.02</text>
<text class="d" transform="translate(84.6 981.6) scale(1.0631 1)" font-size="71.31">0.16</text>
<text class="d" transform="translate(243.9 1036.3) scale(0.9935 1)" font-size="80.53">0</text>
<text class="d" transform="translate(524.8 1036.3) scale(0.9558 1)" font-size="80.53">2</text>
<text class="d" transform="translate(805.8 1036.3) scale(0.9969 1)" font-size="80.53">4</text>
<text class="d" transform="translate(1085.8 1036.3) scale(1.0337 1)" font-size="80.53">6</text>
<text class="d" transform="translate(1367.4 1036.3) scale(1.0066 1)" font-size="80.53">8</text>
<text class="d" transform="translate(1624.6 1036.3) scale(1.0374 1)" font-size="80.53">10</text>
<text class="d" transform="translate(1905.6 1036.3) scale(1.0173 1)" font-size="80.53">12</text>
<text class="d" transform="translate(2186.5 1036.3) scale(1.0386 1)" font-size="80.53">14</text>
<text class="d" transform="translate(2467.3 1036.3) scale(1.0469 1)" font-size="80.53">16</text>
<text class="d" transform="translate(2748.3 1036.3) scale(1.0407 1)" font-size="80.53">18</text>
<text class="d" transform="translate(3028.7 1036.3) scale(1.0440 1)" font-size="80.53">20</text>
<text class="d" transform="translate(3309.7 1036.3) scale(1.0245 1)" font-size="80.53">22</text>
<text class="d" transform="translate(3590.6 1036.3) scale(1.0451 1)" font-size="80.53">24</text>
<text class="d" transform="translate(1739 1115.8) scale(1.0079 1)" font-size="80.53">Time (UTC)</text>
<text class="d" transform="translate(35.4 533.0) rotate(-90) translate(-300.7 0) scale(1.0520 1)" font-size="70.68">Height AMSL (km)</text>
<text transform="translate(1476.7 76.5)" font-size="100.60">Limassol: 2025/11/09</text>
</g>
<rect x="266" y="1144.1" width="3371.3" height="55.9" fill="url(#cb)"/>
<g fill="#000" shape-rendering="crispEdges">
<rect x="263.1" y="1196.9" width="3377.1" height="6.2"/>
<rect x="263.1" y="1182.9" width="5.8" height="17.1"/>
<rect x="375.5" y="1189.9" width="5.7" height="10.1"/>
<rect x="487.9" y="1189.9" width="5.7" height="10.1"/>
<rect x="600.3" y="1189.9" width="5.7" height="10.1"/>
<rect x="712.7" y="1189.9" width="5.7" height="10.1"/>
<rect x="825" y="1189.9" width="5.7" height="10.1"/>
<rect x="937.4" y="1189.9" width="5.7" height="10.1"/>
<rect x="1049.8" y="1189.9" width="5.7" height="10.1"/>
<rect x="1162.2" y="1189.9" width="5.7" height="10.1"/>
<rect x="1274.5" y="1189.9" width="5.7" height="10.1"/>
<rect x="1386.9" y="1182.9" width="5.8" height="17.1"/>
<rect x="1499.3" y="1189.9" width="5.7" height="10.1"/>
<rect x="1611.7" y="1189.9" width="5.7" height="10.1"/>
<rect x="1724" y="1189.9" width="5.7" height="10.1"/>
<rect x="1836.4" y="1189.9" width="5.7" height="10.1"/>
<rect x="1948.8" y="1189.9" width="5.7" height="10.1"/>
<rect x="2061.2" y="1189.9" width="5.7" height="10.1"/>
<rect x="2173.6" y="1189.9" width="5.7" height="10.1"/>
<rect x="2285.9" y="1189.9" width="5.7" height="10.1"/>
<rect x="2398.3" y="1189.9" width="5.7" height="10.1"/>
<rect x="2510.6" y="1182.9" width="5.8" height="17.1"/>
<rect x="2623.1" y="1189.9" width="5.7" height="10.1"/>
<rect x="2735.4" y="1189.9" width="5.7" height="10.1"/>
<rect x="2847.8" y="1189.9" width="5.7" height="10.1"/>
<rect x="2960.2" y="1189.9" width="5.7" height="10.1"/>
<rect x="3072.6" y="1189.9" width="5.7" height="10.1"/>
<rect x="3184.9" y="1189.9" width="5.7" height="10.1"/>
<rect x="3297.3" y="1189.9" width="5.7" height="10.1"/>
<rect x="3409.7" y="1189.9" width="5.7" height="10.1"/>
<rect x="3522.1" y="1189.9" width="5.7" height="10.1"/>
<rect x="3634.4" y="1182.9" width="5.8" height="17.1"/>
</g>
<g>
<text class="d" transform="translate(179.3 1262.3) scale(1.0450 1)" font-size="62.41">Clear</text>
<text class="d" transform="translate(1303.3 1261.6) scale(1.0734 1)" font-size="62.41">Water</text>
<text class="d" transform="translate(2470.9 1262) scale(1.0335 1)" font-size="62.41">Ice</text>
<text class="d" transform="translate(3553.3 1262.3) scale(1.0829 1)" font-size="62.41">Other</text>
</g>
<g>
<rect x="249.4" y="1313" width="650.4" height="335" fill="#fff" stroke="#000" stroke-width="6.2" shape-rendering="crispEdges"/>
<circle cx="286.9" cy="1383.9" r="17.1" fill="#32cd32" shape-rendering="crispEdges"/>
<circle cx="286.9" cy="1470" r="14.3" fill="#fff" stroke="#32cd32" stroke-width="5.8" shape-rendering="crispEdges"/>
<path d="M270.9 1550.4L303.1 1582.6M270.9 1582.6L303.1 1550.4" stroke="#32cd32" stroke-width="5.0" fill="none"/>
<text class="d" transform="translate(324.2 1405.5) scale(0.9813 1)" font-size="62.20">FCI-OCA SL Wat</text>
<text class="d" transform="translate(324.1 1492.4) scale(0.9964 1)" font-size="62.20">FCI-OCA 2L Wat</text>
<text class="d" transform="translate(323.4 1588.4) scale(1.0231 1)" font-size="62.20">OCA High Err Wat</text>
<rect x="994.2" y="1313" width="617.9" height="335" fill="#fff" stroke="#000" stroke-width="6.2" shape-rendering="crispEdges"/>
<circle cx="1031.9" cy="1383.9" r="17.1" fill="#0000ff" shape-rendering="crispEdges"/>
<circle cx="1031.9" cy="1470" r="14.3" fill="#fff" stroke="#0000ff" stroke-width="5.8" shape-rendering="crispEdges"/>
<path d="M1015.9 1550.4L1048.1 1582.6M1015.9 1582.6L1048.1 1550.4" stroke="#0000ff" stroke-width="5.0" fill="none"/>
<text class="d" transform="translate(1069.7 1405.5) scale(0.9771 1)" font-size="62.20">FCI-OCA SL Ice</text>
<text class="d" transform="translate(1069.6 1492.4) scale(0.9927 1)" font-size="62.20">FCI-OCA 2L Ice</text>
<text class="d" transform="translate(1068.6 1588.4) scale(1.0205 1)" font-size="62.20">OCA High Err Ice</text>
<rect x="2328" y="1313" width="559" height="401.7" fill="#fff" stroke="#000" stroke-width="6.2" shape-rendering="crispEdges"/>
<polygon points="2365.1,1363.8 2348.1,1393.8 2382.1,1393.8" fill="#ff0000" shape-rendering="crispEdges"/>
<polygon points="2365.1,1490.1 2348.1,1460.1 2382.1,1460.1" fill="#ff0000" shape-rendering="crispEdges"/>
<polygon points="2365.1,1536.6 2348.1,1566.6 2382.1,1566.6" fill="#ff0000" shape-rendering="crispEdges"/>
<polygon points="2365.1,1548.6 2357.7,1560.6 2372.5,1560.6" fill="#fff" shape-rendering="crispEdges"/>
<polygon points="2365.1,1663 2348.1,1633 2382.1,1633" fill="#ff0000" shape-rendering="crispEdges"/>
<polygon points="2365.1,1651 2357.7,1639 2372.5,1639" fill="#fff" shape-rendering="crispEdges"/>
<text class="d" transform="translate(2402.4 1405.3) scale(0.9423 1)" font-size="62.20">ACTRIS CBH</text>
<text class="d" transform="translate(2402.4 1491.9) scale(0.9382 1)" font-size="62.20">ACTRIS CTH</text>
<text class="d" transform="translate(2402.4 1578.5) scale(0.9497 1)" font-size="62.20">ACTRIS CBH BL</text>
<text class="d" transform="translate(2402.4 1665.1) scale(0.9455 1)" font-size="62.20">ACTRIS CTH BL</text>
</g>
</svg></body></html>
